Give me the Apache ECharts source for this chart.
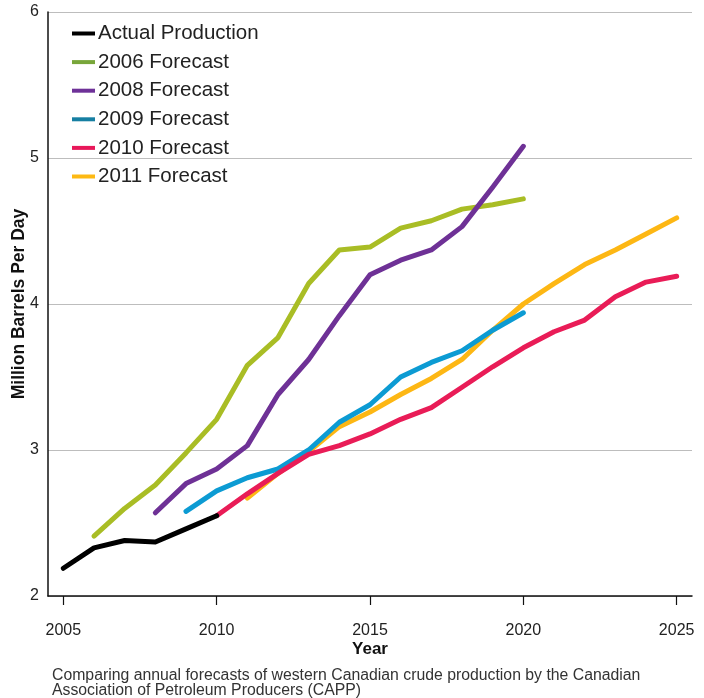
<!DOCTYPE html>
<html>
<head>
<meta charset="utf-8">
<script src="https://cdn.jsdelivr.net/npm/echarts@6/dist/echarts.min.js"></script>
<style>
  html, body { margin: 0; padding: 0; background: #fff; }
  #target { width: 704px; height: 698px; }
</style>
</head>
<body>
<div id="target"></div>
<script>
// 数据
const yearTicks = [2005, 2010, 2015, 2020, 2025];
const actualYears = [2005, 2006, 2007, 2008, 2009, 2010];
const actualValues = [2.19, 2.33, 2.38, 2.37, 2.46, 2.55];
const f2006Years = [2006, 2007, 2008, 2009, 2010, 2011, 2012, 2013, 2014, 2015, 2016, 2017, 2018, 2019, 2020];
const f2006Values = [2.41, 2.60, 2.76, 2.98, 3.21, 3.58, 3.77, 4.14, 4.37, 4.39, 4.52, 4.57, 4.65, 4.68, 4.72];
const f2008Years = [2008, 2009, 2010, 2011, 2012, 2013, 2014, 2015, 2016, 2017, 2018, 2019, 2020];
const f2008Values = [2.57, 2.77, 2.87, 3.03, 3.38, 3.62, 3.92, 4.20, 4.30, 4.37, 4.53, 4.80, 5.08];
const f2009Years = [2009, 2010, 2011, 2012, 2013, 2014, 2015, 2016, 2017, 2018, 2019, 2020];
const f2009Values = [2.58, 2.72, 2.81, 2.87, 3.00, 3.19, 3.31, 3.50, 3.60, 3.68, 3.82, 3.94];
const f2010Years = [2010, 2011, 2012, 2013, 2014, 2015, 2016, 2017, 2018, 2019, 2020, 2021, 2022, 2023, 2024, 2025];
const f2010Values = [2.55, 2.70, 2.84, 2.97, 3.03, 3.11, 3.21, 3.29, 3.43, 3.57, 3.70, 3.81, 3.89, 4.05, 4.15, 4.19];
const f2011Years = [2011, 2012, 2013, 2014, 2015, 2016, 2017, 2018, 2019, 2020, 2021, 2022, 2023, 2024, 2025];
const f2011Values = [2.67, 2.84, 2.99, 3.16, 3.26, 3.38, 3.49, 3.62, 3.82, 4.00, 4.14, 4.27, 4.37, 4.48, 4.59];

const seriesNames = ['Actual Production', '2006 Forecast', '2008 Forecast', '2009 Forecast', '2010 Forecast', '2011 Forecast'];
const lineColors = ['#000000', '#a9bd25', '#6e3196', '#0c9bd3', '#e91c57', '#fdb714'];
const legendColors = ['#000000', '#78a63a', '#6e3198', '#167fa2', '#e8185a', '#fdb913'];

const pairs = (xs, ys) => xs.map((x, i) => [x, ys[i]]);
const seriesData = [
  pairs(actualYears, actualValues),
  pairs(f2006Years, f2006Values),
  pairs(f2008Years, f2008Values),
  pairs(f2009Years, f2009Values),
  pairs(f2010Years, f2010Values),
  pairs(f2011Years, f2011Values)
];
// 绘制顺序：黄色在红色、蓝色下面
const drawOrder = [5, 1, 2, 3, 4, 0];

const myChart = echarts.init(document.getElementById('target'));
const font = '"Liberation Sans", Arial, sans-serif';

const options = {
  animation: false,
  textStyle: { fontFamily: font },
  grid: { left: 48, right: 12, top: 12, bottom: 102, outerBoundsMode: 'none', containLabel: false },
  legend: {
    orient: 'vertical',
    left: 67,
    top: 18,
    icon: 'rect',
    itemWidth: 23,
    itemHeight: 4,
    itemGap: 7.6,
    textStyle: { fontSize: 20.5, color: '#222', lineHeight: 20, fontFamily: font, padding: [0, 0, 0, -2] },
    data: seriesNames.map((n, i) => ({ name: n, itemStyle: { color: legendColors[i] } }))
  },
  xAxis: {
    type: 'value',
    min: 2004.5,
    max: 2025.5,
    name: 'Year',
    nameLocation: 'middle',
    nameGap: 45,
    nameMoveOverlap: false,
    nameTextStyle: { fontSize: 17, fontWeight: 'bold', color: '#111', fontFamily: font },
    axisLine: { show: true, lineStyle: { color: '#111', width: 1.5 } },
    axisTick: { show: true, customValues: yearTicks, length: 9, inside: false, lineStyle: { color: '#111', width: 1.2 } },
    axisLabel: { customValues: yearTicks, margin: 27, fontSize: 16, color: '#222', fontFamily: font, formatter: (v) => String(v) },
    splitLine: { show: false }
  },
  yAxis: {
    type: 'value',
    min: 2,
    max: 6,
    interval: 1,
    name: 'Million Barrels Per Day',
    nameLocation: 'middle',
    nameGap: 20,
    nameMoveOverlap: false,
    nameTextStyle: { fontSize: 17.5, fontWeight: 'bold', color: '#111', fontFamily: font },
    axisLine: { show: true, lineStyle: { color: '#111', width: 1.5 } },
    axisTick: { show: false },
    axisLabel: { margin: 9, fontSize: 16, color: '#222', fontFamily: font, padding: [10, 0, 0, 0] },
    splitLine: { show: true, lineStyle: { color: '#bdbdbd', width: 1.2 } }
  },
  series: drawOrder.map((i) => ({
    name: seriesNames[i],
    type: 'line',
    data: seriesData[i],
    showSymbol: false,
    symbol: 'none',
    color: lineColors[i],
    lineStyle: { width: 5, color: lineColors[i], cap: 'round', join: 'round' },
    z: 2 + drawOrder.indexOf(i)
  })),
  graphic: [
    {
      type: 'text',
      left: 52,
      top: 668,
      style: {
        text: 'Comparing annual forecasts of western Canadian crude production by the Canadian\nAssociation of Petroleum Producers (CAPP)',
        font: '15.8px ' + font,
        fill: '#333',
        lineHeight: 15
      }
    }
  ]
};

myChart.setOption(options);
</script>
</body>
</html>
